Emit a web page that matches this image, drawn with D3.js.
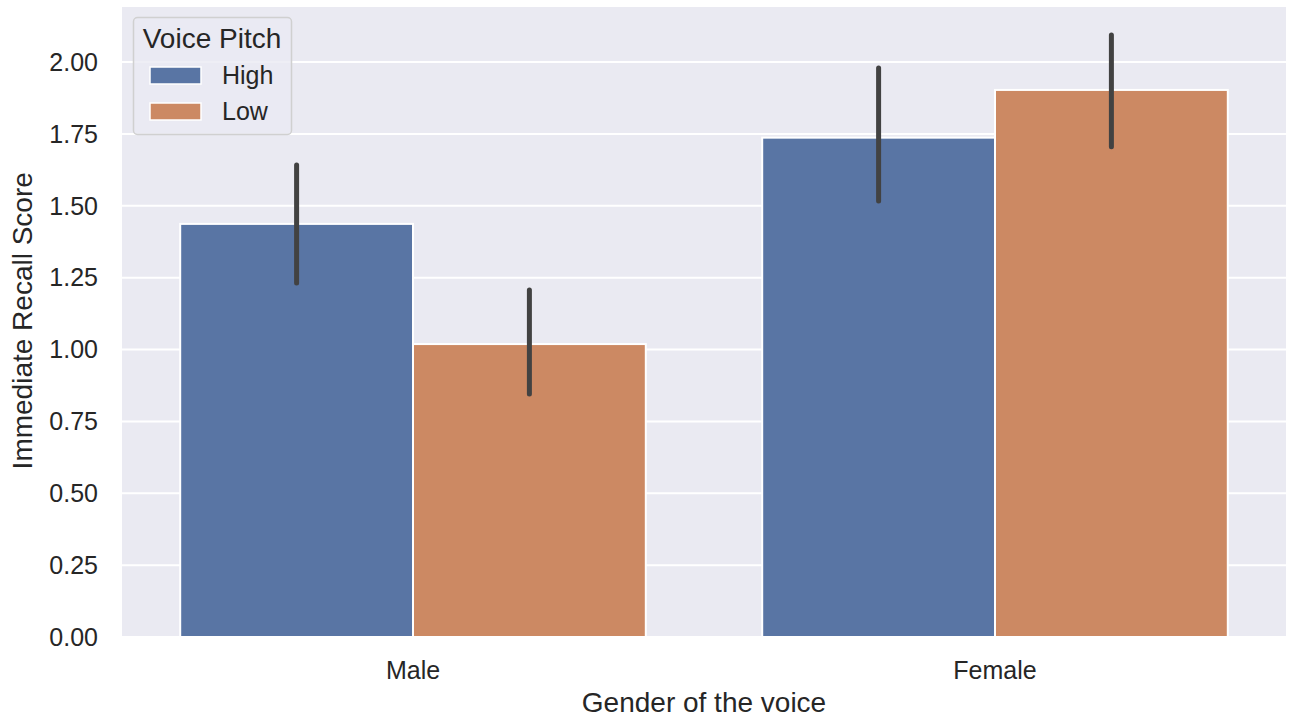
<!DOCTYPE html>
<html>
<head>
<meta charset="utf-8">
<script src="https://cdn.jsdelivr.net/npm/d3@7"></script>
<style>
  body { margin: 0; background: #fff; }
  text { font-family: "Liberation Sans", Arial, sans-serif; fill: #262626; }
</style>
</head>
<body>
<script>
const w = 1292;
const h = 719;
const margin = {top: 7, right: 6, bottom: 82, left: 122};

// data
const genders = ['Male', 'Female'];
const pitches = ['High', 'Low'];
const means = [[1.437, 1.019], [1.737, 1.903]];
const ciLow = [[1.231, 0.845], [1.517, 1.705]];
const ciHigh = [[1.642, 1.207], [1.979, 2.094]];
const yTicks = [0, 0.25, 0.5, 0.75, 1.0, 1.25, 1.5, 1.75, 2.0];
const colors = ['#5975a4', '#cc8963'];

const svg = d3.select('body').append('svg')
  .attr('width', w)
  .attr('height', h);

const x = d3.scaleBand()
  .domain(genders)
  .range([margin.left, w - margin.right])
  .paddingInner(0.2)
  .paddingOuter(0.1);

const xInner = d3.scaleBand()
  .domain(pitches)
  .range([0, x.bandwidth()]);

const y = d3.scaleLinear()
  .domain([0, 2.1915])
  .range([h - margin.bottom, margin.top]);

// background
svg.append('rect')
  .attr('x', margin.left)
  .attr('y', margin.top)
  .attr('width', w - margin.left - margin.right)
  .attr('height', h - margin.top - margin.bottom)
  .attr('fill', '#eaeaf2');

// grid
svg.selectAll('line.grid')
  .data(yTicks)
  .enter().append('line')
    .attr('class', 'grid')
    .attr('x1', margin.left)
    .attr('x2', w - margin.right)
    .attr('y1', d => y(d))
    .attr('y2', d => y(d))
    .attr('stroke', '#fff')
    .attr('stroke-width', 2);

// tick labels
svg.selectAll('text.ytick')
  .data(yTicks)
  .enter().append('text')
    .attr('class', 'ytick')
    .attr('x', 98)
    .attr('y', d => y(d))
    .attr('dy', '0.35em')
    .attr('text-anchor', 'end')
    .style('font-size', '25px')
    .text(d => d3.format('.2f')(d));

svg.selectAll('text.xtick')
  .data(genders)
  .enter().append('text')
    .attr('class', 'xtick')
    .attr('x', d => x(d) + x.bandwidth() / 2)
    .attr('y', 679)
    .attr('text-anchor', 'middle')
    .style('font-size', '25px')
    .text(d => d);

// bars
const rows = [];
genders.forEach((g, i) => {
  pitches.forEach((p, j) => {
    rows.push({gender: g, pitch: p, j, mean: means[i][j], lo: ciLow[i][j], hi: ciHigh[i][j]});
  });
});

svg.selectAll('rect.bar')
  .data(rows)
  .enter().append('rect')
    .attr('class', 'bar')
    .attr('x', d => x(d.gender) + xInner(d.pitch))
    .attr('y', d => y(d.mean))
    .attr('width', xInner.bandwidth())
    .attr('height', d => y(0) - y(d.mean))
    .attr('fill', d => colors[d.j])
    .attr('stroke', '#fff')
    .attr('stroke-width', 2);

svg.selectAll('line.err')
  .data(rows)
  .enter().append('line')
    .attr('class', 'err')
    .attr('x1', d => x(d.gender) + xInner(d.pitch) + xInner.bandwidth() / 2)
    .attr('x2', d => x(d.gender) + xInner(d.pitch) + xInner.bandwidth() / 2)
    .attr('y1', d => y(d.lo))
    .attr('y2', d => y(d.hi))
    .attr('stroke', '#424242')
    .attr('stroke-width', 5)
    .attr('stroke-linecap', 'round');

// axis titles
svg.append('text')
  .attr('x', margin.left + (w - margin.left - margin.right) / 2)
  .attr('y', 712)
  .attr('text-anchor', 'middle')
  .style('font-size', '28px')
  .text('Gender of the voice');

svg.append('text')
  .attr('transform', `translate(32, ${y(1.1)}) rotate(-90)`)
  .attr('text-anchor', 'middle')
  .style('font-size', '28px')
  .text('Immediate Recall Score');

// legend
const legend = svg.append('g');
legend.append('rect')
  .attr('x', 133.5)
  .attr('y', 17.5)
  .attr('width', 158)
  .attr('height', 117)
  .attr('rx', 4)
  .attr('fill', '#eaeaf2')
  .attr('fill-opacity', 0.8)
  .attr('stroke', '#d0d0d0')
  .attr('stroke-width', 1.5);

legend.append('text')
  .attr('x', 212)
  .attr('y', 48)
  .attr('text-anchor', 'middle')
  .style('font-size', '28px')
  .text('Voice Pitch');

pitches.forEach((p, j) => {
  legend.append('rect')
    .attr('x', 150)
    .attr('y', 67 + j * 36)
    .attr('width', 51)
    .attr('height', 17)
    .attr('fill', colors[j])
    .attr('stroke', '#fff')
    .attr('stroke-width', 1.5);
  legend.append('text')
    .attr('x', 222)
    .attr('y', 75.5 + j * 36)
    .attr('dy', '0.35em')
    .style('font-size', '25px')
    .text(p);
});
</script>
</body>
</html>
